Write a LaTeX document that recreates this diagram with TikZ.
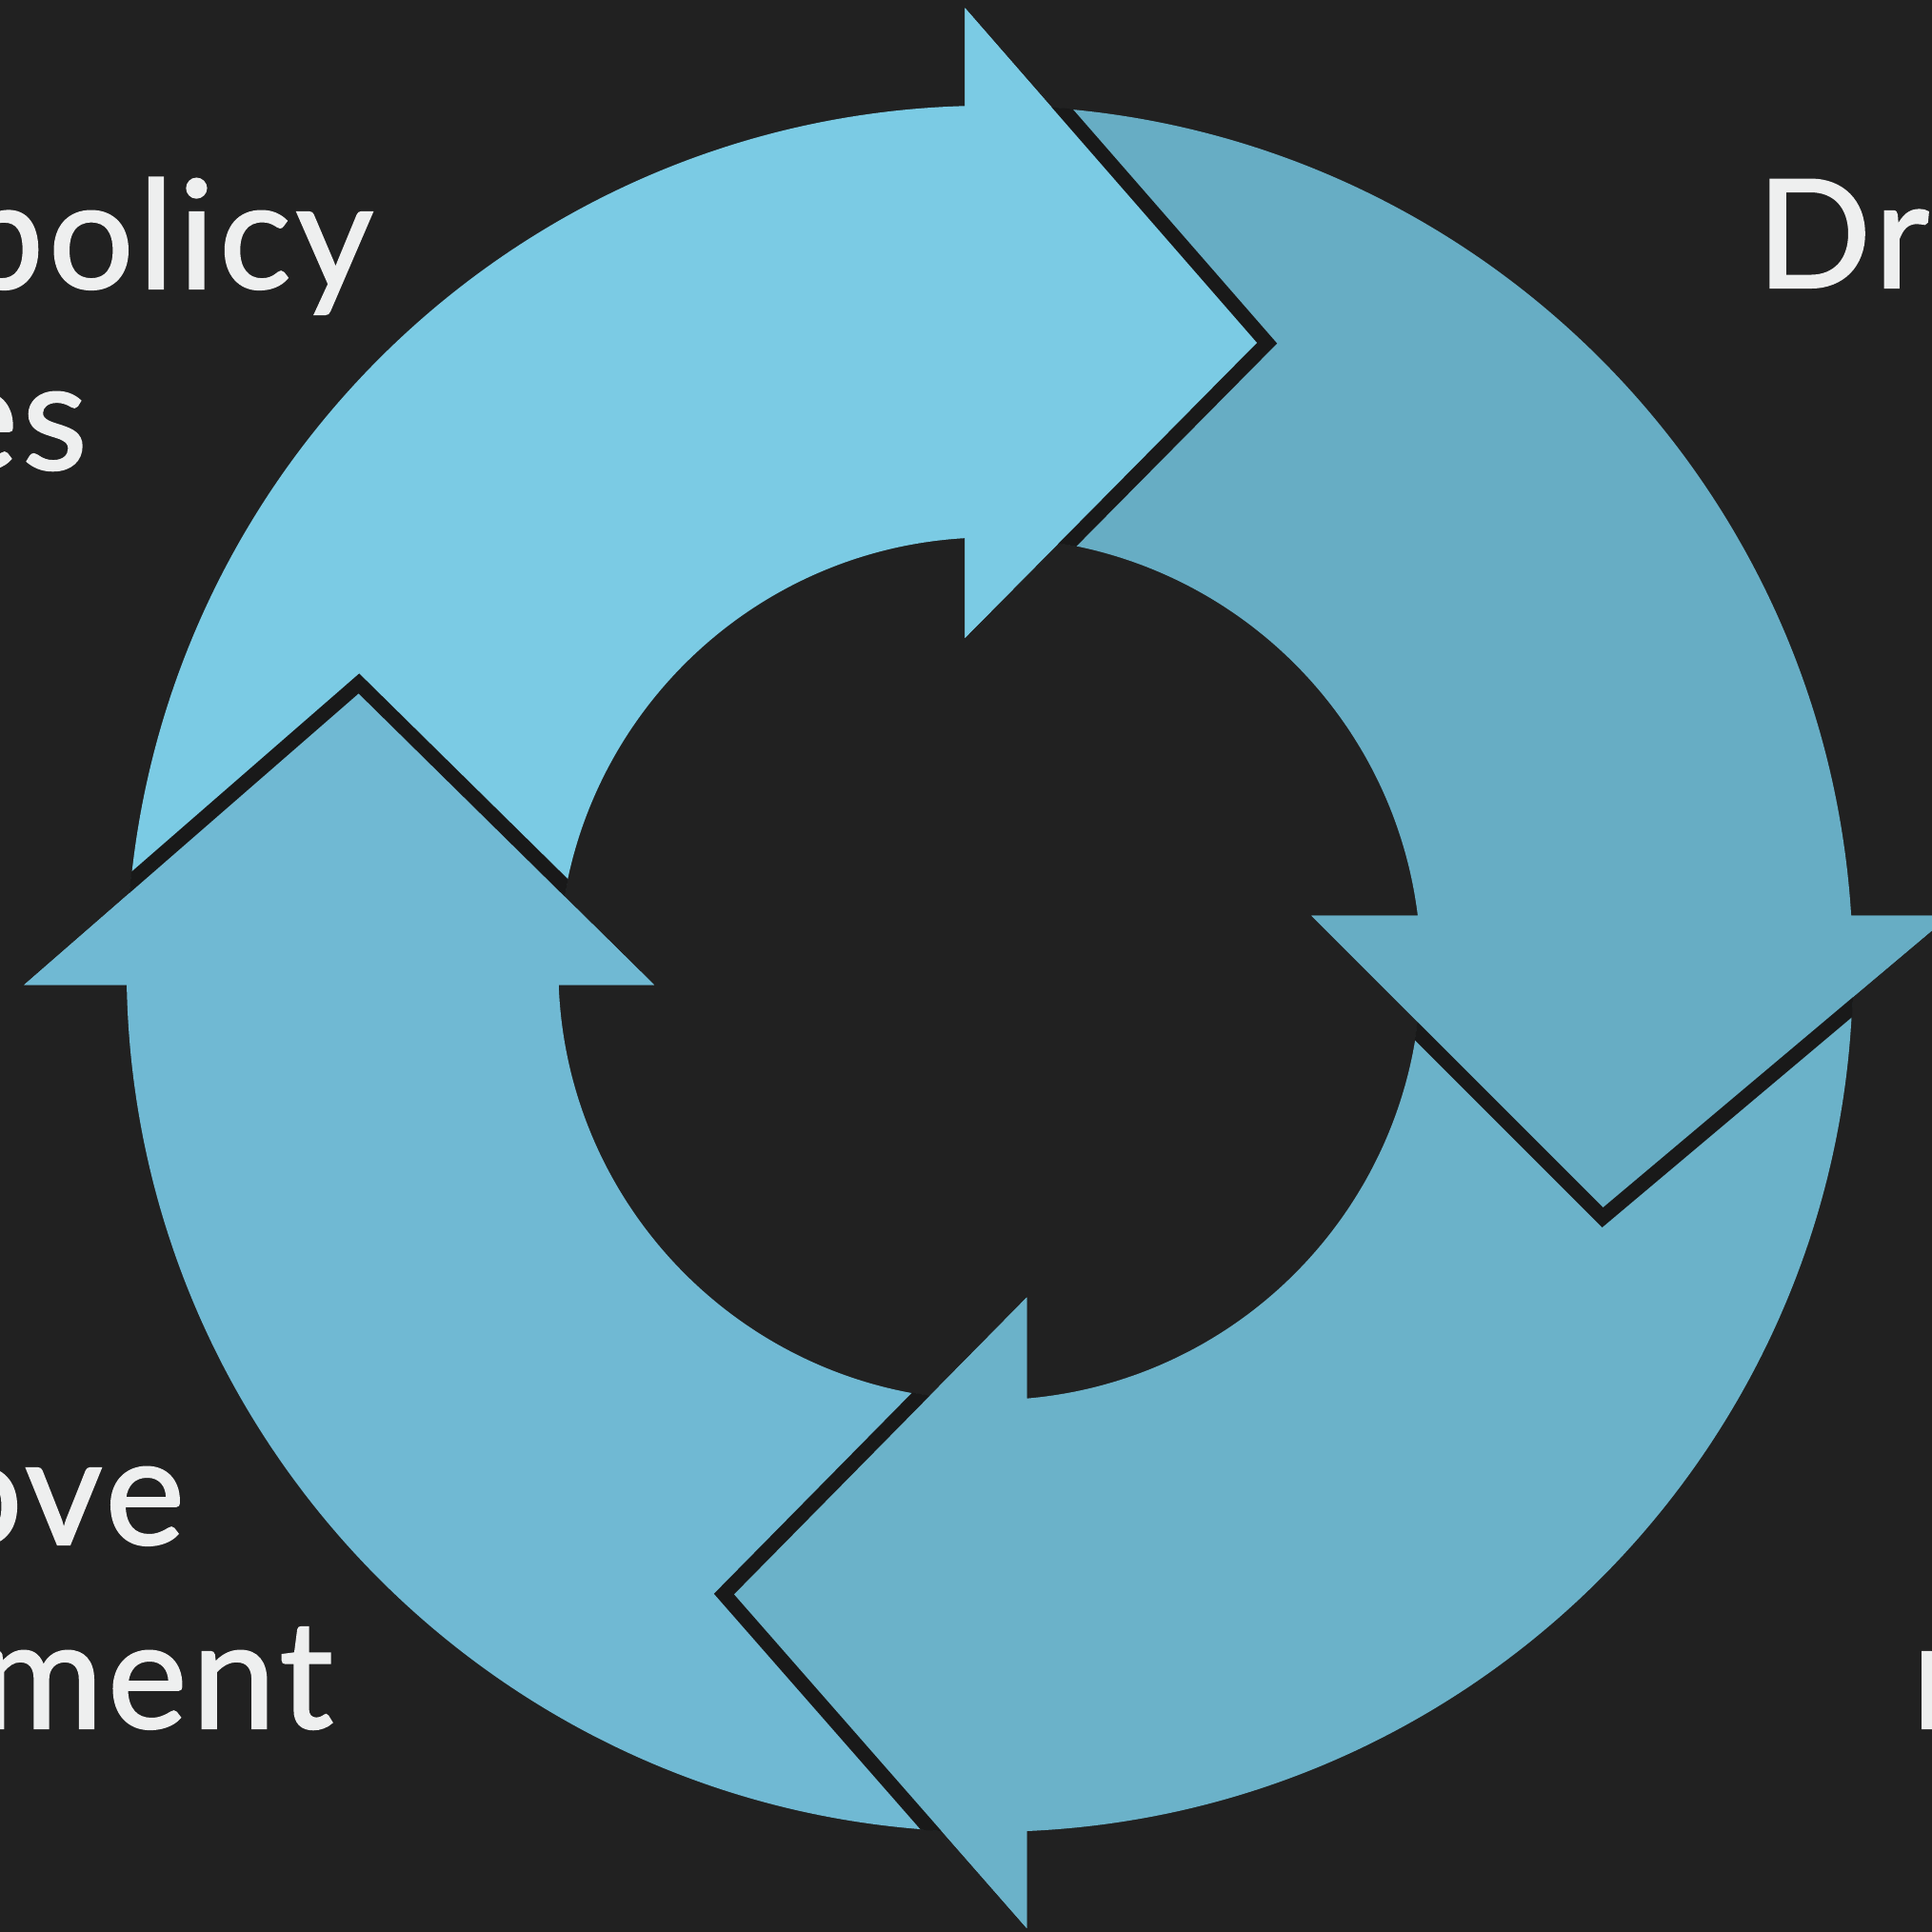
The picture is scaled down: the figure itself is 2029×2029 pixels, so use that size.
\documentclass[tikz,border=0pt]{standalone}
\usepackage{fontspec}
\newfontfamily\labelfont{Lato}[FakeBold=1.3, LetterSpace=3.0]
\definecolor{bgc}{HTML}{212121}
\definecolor{topc}{HTML}{7BCBE4}
\definecolor{rightc}{HTML}{67ADC4}
\definecolor{botc}{HTML}{6BB2C9}
\definecolor{leftc}{HTML}{70B9D3}
\definecolor{txtc}{HTML}{EEEFEF}
\definecolor{shadc}{HTML}{191919}
\tikzset{
  headedge/.style={draw=shadc, line width=0.31cm, line join=miter, miter limit=10},
  label/.style={inner sep=0pt, outer sep=0pt, text=txtc, font=\labelfont\fontsize{45}{54}\selectfont}
}
\begin{document}
\begin{tikzpicture}[x=0.01cm,y=0.01cm]
\useasboundingbox (0,0) rectangle (2029,2029);
\clip (0,0) rectangle (2029,2029);
\fill[bgc] (0,0) rectangle (2029,2029);
\begin{scope}[shift={(1039.4,1011.6)}]
  % head points
  \coordinate (tOut) at (-26.1,1009.1);
  \coordinate (tTip) at (280.6,657.4);
  \coordinate (tIn)  at (-26.1,347.4);
  \coordinate (rOut) at (1008,55.7);
  \coordinate (rTip) at (644.1,-250.6);
  \coordinate (rIn)  at (338,55.7);
  \coordinate (bOut) at (38.9,-1007.6);
  \coordinate (bTip) at (-268.4,-657);
  \coordinate (bIn)  at (38.9,-345.2);
  \coordinate (lOut) at (-1014,-16.9);
  \coordinate (lTip) at (-662.8,288.9);
  \coordinate (lIn)  at (-352.4,-16.9);
  % bodies
  \fill[topc] (178:906.5) arc[start angle=178, end angle=91.65, radius=906.5]
     -- (tOut) -- (tTip) -- (tIn) -- (93.30:453) arc[start angle=93.30, end angle=178, radius=453] -- cycle;
  \fill[rightc] (88:906.5) arc[start angle=88, end angle=3.52, radius=906.5]
     -- (rOut) -- (rTip) -- (rIn) -- (7.06:453) arc[start angle=7.06, end angle=88, radius=453] -- cycle;
  \fill[botc] (-1:906.5) arc[start angle=-1, end angle=-87.54, radius=906.5]
     -- (bOut) -- (bTip) -- (bIn) -- (-85.07:453) arc[start angle=-85.07, end angle=-1, radius=453] -- cycle;
  \fill[leftc] (-89:906.5) arc[start angle=-89, end angle=-178.93, radius=906.5]
     -- (lOut) -- (lTip) -- (lIn) -- (-177.86:453) arc[start angle=-177.86, end angle=-89, radius=453] -- cycle;
  % head edges (shadow bands), only where they lie over the ring
  \begin{scope}[even odd rule]
    \clip (0,0) circle[radius=907] (0,0) circle[radius=452.5];
    \path[headedge] (tOut) -- (tTip) -- (tIn);
    \path[headedge] (rOut) -- (rTip) -- (rIn);
    \path[headedge] (bOut) -- (bTip) -- (bIn);
    \path[headedge] (lOut) -- (lTip) -- (lIn);
  \end{scope}
  % heads on top
  \fill[topc] (tOut) -- (tTip) -- (tIn) -- cycle;
  \fill[rightc] (rOut) -- (rTip) -- (rIn) -- cycle;
  \fill[botc] (bOut) -- (bTip) -- (bIn) -- cycle;
  \fill[leftc] (lOut) -- (lTip) -- (lIn) -- cycle;
\end{scope}
% labels
\node[label, anchor=base east] (policy) at (392,1726) {policy};
\node[label, anchor=base east] (es) at (92,1536) {es};
\node[label, anchor=base west] (dr) at (1845,1727) {Dr};
\node[label, anchor=base east] (ove) at (194,407) {ove};
\node[label, anchor=base east] (ment) at (350,214) {ment};
\node[label, anchor=base west] (nn) at (2008,214) {n};
\end{tikzpicture}
\end{document}
